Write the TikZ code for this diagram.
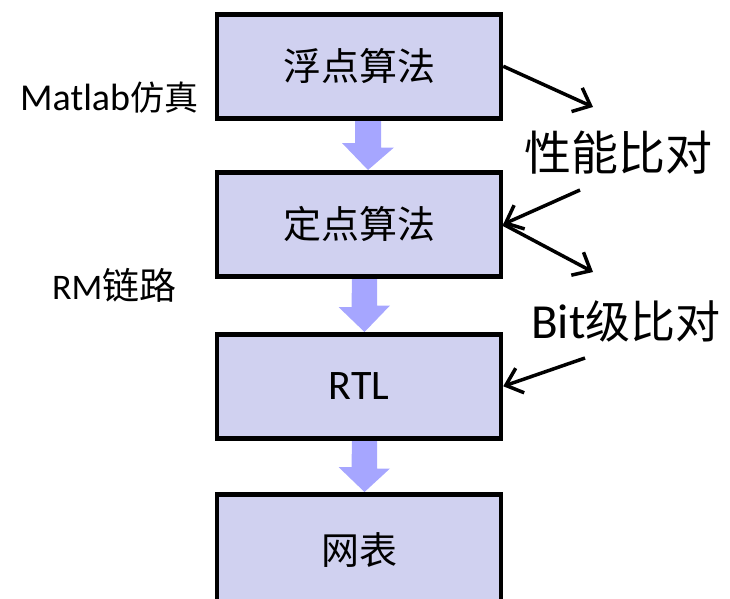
\documentclass[tikz,border=0pt]{standalone}
\usepackage{fontspec}
\setmainfont{Carlito}
\newfontfamily\cjk{Noto Sans CJK SC}
\usetikzlibrary{arrows.meta,calc,backgrounds}
\definecolor{boxfill}{RGB}{208,209,240}
\definecolor{flowcol}{RGB}{166,166,255}
\tikzset{
  stagebox/.style={draw=black, line width=4.5pt, fill=boxfill, minimum width=284pt, minimum height=104pt, anchor=north, inner sep=0pt},
  flowarrow/.style={fill=flowcol},
  cmparrow/.style={draw=black, line width=3.5pt, -{Straight Barb[length=15pt,width=26pt,line width=3.5pt]}},
  sidelabel/.style={inner sep=0pt, anchor=west}
}
\begin{document}
\begin{tikzpicture}[x=1pt,y=-1pt]
\useasboundingbox (0,0) rectangle (730,598);
\clip (0,0) rectangle (730,598);
\node[stagebox] (b1) at (359,12) {\fontsize{38}{40}\selectfont\cjk 浮点算法};
\node[stagebox] (b2) at (359,170) {\fontsize{38}{40}\selectfont\cjk 定点算法};
\node[stagebox] (b3) at (359,332) {\fontsize{42}{44}\selectfont RTL};
\node[stagebox, minimum height=112pt] (b4) at (359,492) {\fontsize{38}{40}\selectfont\cjk 网表};
\begin{scope}[on background layer]
  \fill[flowarrow] ($(b1.south)+(-4,0)$) -- ++(26,0) -- ++(0,27) -- ++(13,0) -- ($(b2.north)+(9,0)$) -- ++(-26,-27) -- ++(13,0) -- cycle;
  \fill[flowarrow] ($(b2.south)+(-7,0)$) -- ++(25,0) -- ++(0,27) -- ++(13,0) -- ($(b3.north)+(5.5,0)$) -- ++(-26,-25) -- ++(13,0) -- cycle;
  \fill[flowarrow] ($(b3.south)+(-7,0)$) -- ++(25,0) -- ++(0,28) -- ++(13,0) -- ($(b4.north)+(5.5,0)$) -- ++(-26,-25) -- ++(13,0) -- cycle;
\end{scope}
\node[sidelabel] (ml) at (20,98) {\fontsize{38}{40}\selectfont Matlab{\fontsize{34}{40}\selectfont\cjk 仿真}};
\node[sidelabel] (rm) at (52,285) {\fontsize{36}{40}\selectfont RM{\fontsize{37}{40}\selectfont\cjk 链路}};
\node[sidelabel] (xn) at (524,153) {\fontsize{47}{50}\selectfont\cjk 性能比对};
\node[sidelabel] (bt) at (531,321) {\fontsize{49}{50}\selectfont Bit{\fontsize{45}{50}\selectfont\cjk 级比对}};
\coordinate (t1) at (593,107);
\coordinate (s2) at (580,190);
\coordinate (t3) at (593,272);
\coordinate (s4) at (585,358);
\draw[cmparrow] (b1.east) -- (t1);
\draw[cmparrow] (s2) -- (b2.east);
\draw[cmparrow] (b2.east) -- (t3);
\draw[cmparrow] (s4) -- (b3.east);
\end{tikzpicture}
\end{document}
